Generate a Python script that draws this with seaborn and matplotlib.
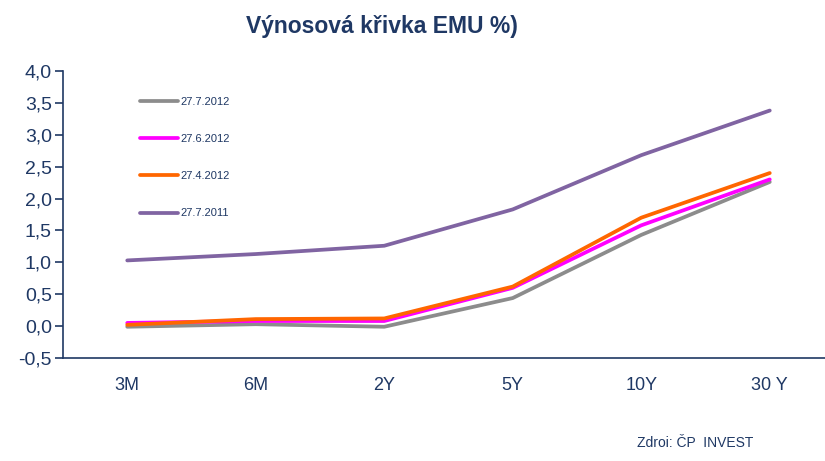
import matplotlib
matplotlib.use("Agg")
import matplotlib.pyplot as plt
import matplotlib.ticker as mticker
import pandas as pd
import seaborn as sns

# yield curve data
maturities = ["3M", "6M", "2Y", "5Y", "10Y", "30 Y"]
y_2012_07_27 = [-0.01, 0.03, -0.01, 0.44, 1.43, 2.26]
y_2012_06_27 = [0.05, 0.08, 0.08, 0.60, 1.58, 2.30]
y_2012_04_27 = [0.02, 0.11, 0.12, 0.62, 1.70, 2.40]
y_2011_07_27 = [1.03, 1.13, 1.26, 1.83, 2.68, 3.38]
series_names = ["27.7.2012", "27.6.2012", "27.4.2012", "27.7.2011"]
colors = ["#8c8c8c", "#ff00ff", "#ff6600", "#8064a2"]

navy = "#1f3864"

rows = []
for name, vals in zip(series_names, [y_2012_07_27, y_2012_06_27, y_2012_04_27, y_2011_07_27]):
    for i, v in enumerate(vals):
        rows.append({"pos": i, "maturity": maturities[i], "series": name, "value": v})
df = pd.DataFrame(rows)

sns.set_style("white")
plt.rcParams["font.family"] = ["Liberation Sans Narrow", "Liberation Sans", "DejaVu Sans"]

fig = plt.figure(figsize=(8.25, 4.61), dpi=100)
ax = fig.add_axes([63 / 825, 103 / 461, 771 / 825, 287 / 461])

sns.lineplot(data=df, x="pos", y="value", hue="series", hue_order=series_names,
             palette=dict(zip(series_names, colors)), linewidth=2.7, ax=ax,
             legend=True)

ax.set_xlim(-0.5, 5.5)
ax.set_ylim(-0.5, 4.0)
ax.set_xticks(range(len(maturities)))
ax.set_xticklabels(maturities)
ax.xaxis.set_minor_locator(mticker.FixedLocator([i + 0.5 for i in range(-1, 6)]))
ax.tick_params(axis="x", which="major", length=0, pad=14, labelsize=13, labelcolor=navy)
ax.tick_params(axis="x", which="minor", length=6, width=1.2, color=navy, direction="out")
ax.set_yticks([i * 0.5 for i in range(-1, 9)])
ax.yaxis.set_major_formatter(mticker.FuncFormatter(lambda v, p: f"{v:.1f}".replace(".", ",")))
ax.tick_params(axis="y", length=6, width=1.2, color=navy, direction="out", labelsize=14,
               labelcolor=navy, pad=2, left=True)
ax.set_xlabel("")
ax.set_ylabel("")

for s in ["top", "right"]:
    ax.spines[s].set_visible(False)
for s in ["left", "bottom"]:
    ax.spines[s].set_color(navy)
    ax.spines[s].set_linewidth(1.2)

leg = ax.legend(loc="upper left", bbox_to_anchor=(0.087, 0.945), frameon=False,
                fontsize=8, labelspacing=2.45, handlelength=3.4, handletextpad=0.2)
for t in leg.get_texts():
    t.set_color(navy)

fig.text(382 / 825, 1 - 27 / 461, "Výnosová křivka EMU %)", ha="center", va="center",
         fontsize=16.5, fontweight="bold", color=navy)
fig.text(695 / 825, 1 - 443 / 461, "Zdroi: ČP  INVEST", ha="center", va="center",
         fontsize=10, color=navy)

fig.savefig("out.png", dpi=100)
